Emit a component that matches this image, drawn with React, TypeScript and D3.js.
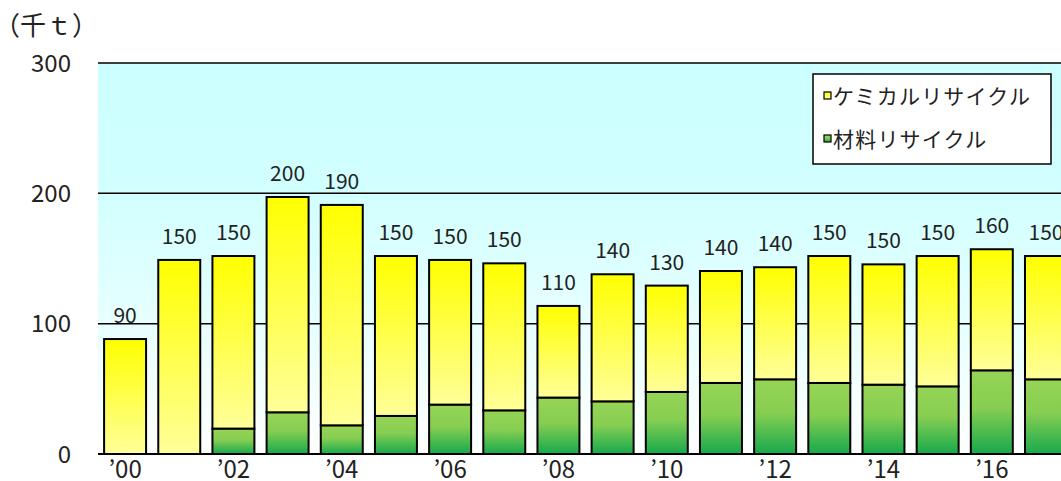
import React from "react";
import * as d3 from "d3";

// Fiscal years shown on the category axis
const years = [
  "2000", "2001", "2002", "2003", "2004", "2005", "2006", "2007", "2008",
  "2009", "2010", "2011", "2012", "2013", "2014", "2015", "2016", "2017",
];
// Material recycling (千t)
const materialValues = [
  0, 0, 19.5, 32, 22, 29.2, 37.9, 33.5, 43.3, 40.4, 47.6, 54.5, 57.3, 54.5,
  53.2, 51.9, 64.2, 57.3,
];
// Chemical recycling (千t)
const chemicalValues = [
  88.2, 148.9, 132.4, 165.2, 169.1, 122.7, 111, 112.8, 70.3, 97.5, 81.6, 85.9,
  86, 97.4, 92.3, 100, 92.9, 94.6,
];
const yTicks = [0, 100, 200, 300];
const seriesNames = ["ケミカルリサイクル", "材料リサイクル"];

const W = 1061;
const H = 481;
const left = 98;
const top = 63;
const bottom = 454;
const plotRight = left + 18 * 54.17;

const FONT = "'Noto Sans CJK JP', 'Noto Sans', sans-serif";

export default function App() {
  const x = d3
    .scaleBand<string>()
    .domain(years)
    .range([left, plotRight])
    .paddingInner(0.225)
    .paddingOuter(0.1125);
  const y = d3.scaleLinear().domain([0, 300]).range([bottom, top]);

  const rows = years.map((yr, i) => ({
    year: yr,
    material: materialValues[i],
    chemical: chemicalValues[i],
  }));
  const stack = d3.stack<any>().keys(["material", "chemical"])(rows);
  const totals = rows.map((r) => r.material + r.chemical);

  const tickLabel = (yr: string) => "\u2019" + yr.slice(2);

  return (
    <svg
      width={W}
      height={H}
      style={{ position: "absolute", left: 0, top: 0, display: "block" }}
      fontFamily={FONT}
    >
      <defs>
        <linearGradient id="bg" x1="0" y1="0" x2="0" y2="1">
          <stop offset="0" stopColor="#ccffff" />
          <stop offset="0.35" stopColor="#d2ffff" />
          <stop offset="1" stopColor="#ffffff" />
        </linearGradient>
        <linearGradient id="gYellow" x1="0" y1="0" x2="0" y2="1">
          <stop offset="0" stopColor="#ffff00" />
          <stop offset="1" stopColor="#ffff99" />
        </linearGradient>
        <linearGradient id="gGreen" x1="0" y1="0" x2="0" y2="1">
          <stop offset="0" stopColor="#96d455" />
          <stop offset="0.45" stopColor="#86ce52" />
          <stop offset="1" stopColor="#17a94c" />
        </linearGradient>
      </defs>
      <rect x={0} y={0} width={W} height={H} fill="#ffffff" />
      <rect
        x={left}
        y={y(300)}
        width={plotRight - left}
        height={y(0) - y(300)}
        fill="url(#bg)"
      />
      {yTicks
        .filter((t) => t > 0)
        .map((t) => (
          <line
            key={t}
            x1={left}
            x2={plotRight}
            y1={y(t)}
            y2={y(t)}
            stroke="#000"
            strokeWidth={1.5}
          />
        ))}
      {stack.map((layer) =>
        layer.map((d, i) => {
          const h = y(d[0]) - y(d[1]);
          if (h <= 0) return null;
          return (
            <rect
              key={layer.key + i}
              x={x(years[i])}
              y={y(d[1])}
              width={x.bandwidth()}
              height={h}
              fill={layer.key === "material" ? "url(#gGreen)" : "url(#gYellow)"}
              stroke="#000"
              strokeWidth={2}
            />
          );
        })
      )}
      <line
        x1={left}
        x2={plotRight}
        y1={y(0)}
        y2={y(0)}
        stroke="#000"
        strokeWidth={2}
      />
      {totals.map((t, i) => (
        <text
          key={"v" + i}
          x={(x(years[i]) as number) + x.bandwidth() / 2}
          y={y(t) - 16}
          textAnchor="middle"
          fontSize={21}
          fill="#222"
        >
          {Math.round(t / 10) * 10}
        </text>
      ))}
      {yTicks.map((t) => (
        <text
          key={"y" + t}
          x={71}
          y={y(t)}
          dy="0.36em"
          textAnchor="end"
          fontSize={24}
          fill="#222"
        >
          {t}
        </text>
      ))}
      {years.map((yr, i) =>
        i % 2 === 0 ? (
          <text
            key={"x" + yr}
            x={(x(yr) as number) + x.bandwidth() / 2}
            y={478}
            textAnchor="middle"
            fontSize={24}
            fill="#222"
          >
            {tickLabel(yr)}
          </text>
        ) : null
      )}
      <text x={-6} y={26} dy="0.36em" fontSize={26} fill="#222">
        （千ｔ）
      </text>
      <g>
        <rect
          x={813}
          y={74}
          width={238}
          height={90}
          fill="#ffffff"
          stroke="#000"
          strokeWidth={1.5}
        />
        {seriesNames.map((name, i) => (
          <g key={name} transform={`translate(824, ${96 + i * 43})`}>
            <rect
              x={0}
              y={-4}
              width={7}
              height={7}
              fill={i === 0 ? "url(#gYellow)" : "url(#gGreen)"}
              stroke="#000"
              strokeWidth={1.2}
            />
            <text x={9} y={0} dy="0.36em" fontSize={21} letterSpacing={1.2} fill="#222">
              {name}
            </text>
          </g>
        ))}
      </g>
    </svg>
  );
}
